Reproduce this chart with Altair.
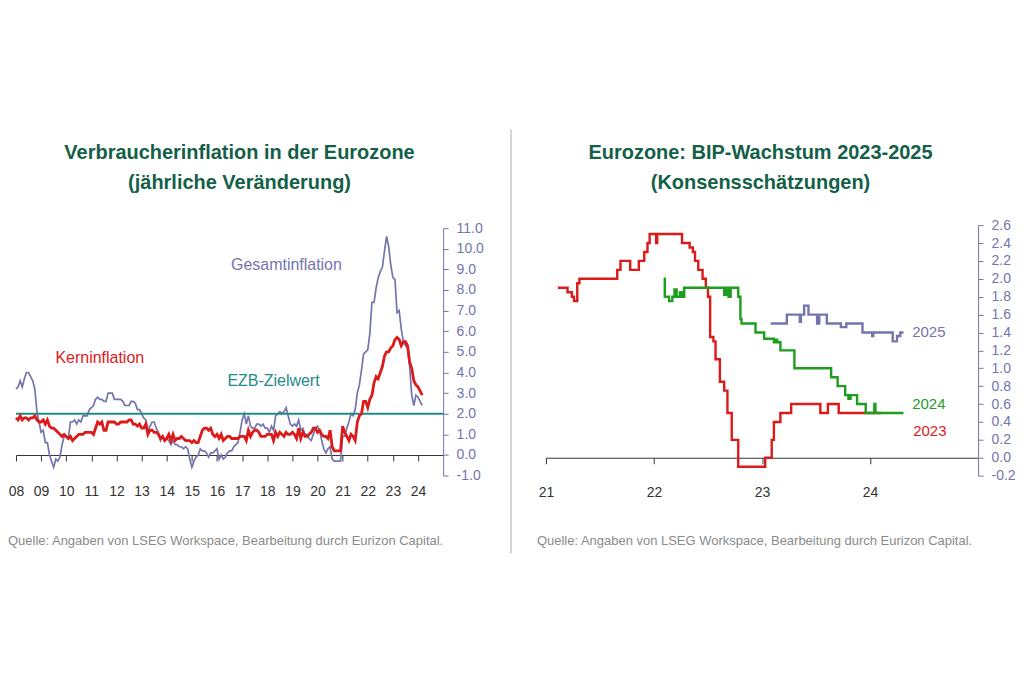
import altair as alt
import pandas as pd

# ---------------- Left panel: euro area inflation (monthly, Jan 2008 - Mar 2024) ----------------
start_year = 2008
headline = [
    3.2, 3.3, 3.6, 3.3, 3.7, 4.0, 4.0, 3.8, 3.6, 3.2, 2.1, 1.6,      # 2008
    1.1, 1.2, 0.6, 0.6, 0.0, -0.3, -0.6, -0.2, -0.3, -0.1, 0.5, 0.9,  # 2009
    0.9, 0.8, 1.6, 1.6, 1.7, 1.5, 1.7, 1.6, 1.9, 1.9, 1.9, 2.2,      # 2010
    2.3, 2.4, 2.7, 2.8, 2.7, 2.7, 2.6, 2.6, 3.0, 3.0, 3.0, 2.7,      # 2011
    2.7, 2.7, 2.7, 2.6, 2.4, 2.4, 2.4, 2.6, 2.6, 2.5, 2.2, 2.2,      # 2012
    2.0, 1.8, 1.7, 1.2, 1.4, 1.6, 1.6, 1.3, 1.1, 0.7, 0.9, 0.8,      # 2013
    0.8, 0.7, 0.5, 0.7, 0.5, 0.5, 0.4, 0.4, 0.3, 0.4, 0.3, -0.2,     # 2014
    -0.6, -0.3, -0.1, 0.0, 0.3, 0.2, 0.2, 0.1, -0.1, 0.1, 0.1, 0.2,  # 2015
    0.3, -0.2, 0.0, -0.2, -0.1, 0.1, 0.2, 0.2, 0.4, 0.5, 0.6, 1.1,   # 2016
    1.7, 2.0, 1.5, 1.9, 1.4, 1.3, 1.3, 1.5, 1.5, 1.4, 1.5, 1.3,      # 2017
    1.3, 1.1, 1.4, 1.2, 1.9, 2.0, 2.1, 2.0, 2.1, 2.3, 1.9, 1.5,      # 2018
    1.4, 1.5, 1.4, 1.7, 1.2, 1.3, 1.0, 1.0, 0.8, 0.7, 1.0, 1.3,      # 2019
    1.4, 1.2, 0.7, 0.3, 0.1, 0.3, 0.4, -0.2, -0.3, -0.3, -0.3, -0.3, # 2020
    0.9, 0.9, 1.3, 1.6, 2.0, 1.9, 2.2, 3.0, 3.4, 4.1, 4.9, 5.0,      # 2021
    5.1, 5.9, 7.4, 7.4, 8.1, 8.6, 8.9, 9.1, 9.9, 10.6, 10.1, 9.2,    # 2022
    8.6, 8.5, 6.9, 7.0, 6.1, 5.5, 5.3, 5.2, 4.3, 2.9, 2.4, 2.9,      # 2023
    2.8, 2.6, 2.4,                                                   # 2024
]
core = [
    1.8, 1.7, 1.9, 1.7, 1.8, 1.8, 1.7, 1.8, 1.8, 1.9, 1.7, 1.6,      # 2008
    1.6, 1.7, 1.5, 1.7, 1.4, 1.3, 1.3, 1.2, 1.1, 1.0, 0.9, 1.0,      # 2009
    0.9, 0.8, 0.9, 0.7, 0.8, 0.9, 1.0, 1.0, 1.0, 1.1, 1.1, 1.1,      # 2010
    1.1, 1.0, 1.3, 1.6, 1.5, 1.6, 1.2, 1.2, 1.6, 1.6, 1.6, 1.6,      # 2011
    1.5, 1.5, 1.6, 1.6, 1.6, 1.6, 1.7, 1.7, 1.5, 1.5, 1.4, 1.5,      # 2012
    1.3, 1.3, 1.5, 1.0, 1.2, 1.2, 1.1, 1.1, 1.0, 0.8, 0.9, 0.7,      # 2013
    0.8, 1.0, 0.7, 1.0, 0.7, 0.8, 0.8, 0.9, 0.8, 0.7, 0.7, 0.7,      # 2014
    0.6, 0.7, 0.6, 0.6, 0.9, 1.2, 1.3, 1.3, 1.2, 1.3, 1.0, 0.9,      # 2015
    1.0, 0.8, 1.0, 0.7, 0.8, 0.9, 0.9, 0.8, 0.8, 0.8, 0.8, 0.9,      # 2016
    0.9, 0.9, 0.7, 1.2, 0.9, 1.1, 1.2, 1.2, 1.1, 0.9, 0.9, 0.9,      # 2017
    1.0, 1.0, 1.0, 0.7, 1.1, 0.9, 1.1, 1.0, 0.9, 1.1, 1.0, 1.0,      # 2018
    1.1, 1.0, 0.8, 1.3, 0.8, 1.1, 0.9, 0.9, 1.0, 1.1, 1.3, 1.3,      # 2019
    1.1, 1.2, 1.0, 0.9, 0.9, 0.8, 1.2, 0.4, 0.2, 0.2, 0.2, 0.2,      # 2020
    1.4, 1.1, 0.9, 0.7, 1.0, 0.9, 0.7, 1.6, 1.9, 2.0, 2.6, 2.6,      # 2021
    2.3, 2.7, 2.9, 3.5, 3.8, 3.7, 4.0, 4.3, 4.8, 5.0, 5.0, 5.2,      # 2022
    5.3, 5.6, 5.7, 5.6, 5.3, 5.5, 5.5, 5.3, 4.5, 4.2, 3.6, 3.4,      # 2023
    3.3, 3.1, 2.9,                                                   # 2024
]
ecb_target = 2.0
left_years = list(range(2008, 2025))
left_ticks = [-1, 0, 1, 2, 3, 4, 5, 6, 7, 8, 9, 10, 11]

# ---------------- Right panel: GDP consensus forecasts (step series) ----------------
gdp2023_x = [2021.11, 2021.20, 2021.24, 2021.26, 2021.29, 2021.31, 2021.66, 2021.69, 2021.78,
             2021.86, 2021.91, 2021.94, 2021.96, 2022.02, 2022.03, 2022.26, 2022.33, 2022.36,
             2022.38, 2022.41, 2022.45, 2022.48, 2022.50, 2022.52, 2022.55, 2022.57, 2022.61,
             2022.65, 2022.68, 2022.72, 2022.78, 2023.03, 2023.09, 2023.11, 2023.17, 2023.27,
             2023.54, 2023.61, 2023.71, 2024.10]
gdp2023_v = [1.90, 1.85, 1.80, 1.75, 1.95, 2.00, 2.10, 2.20, 2.10,
             2.20, 2.30, 2.40, 2.50, 2.40, 2.50, 2.40, 2.35, 2.30,
             2.20, 2.10, 2.00, 1.90, 1.80, 1.35, 1.30, 1.10, 0.85,
             0.75, 0.50, 0.20, -0.10, 0.00, 0.20, 0.40, 0.50, 0.60,
             0.50, 0.60, 0.50, 0.50]
gdp2024_x = [2022.09, 2022.10, 2022.14, 2022.17, 2022.19, 2022.21, 2022.24, 2022.26, 2022.28,
             2022.65, 2022.67, 2022.69, 2022.71, 2022.78, 2022.80, 2022.81, 2022.94, 2023.02,
             2023.11, 2023.13, 2023.14, 2023.17, 2023.30, 2023.64, 2023.70, 2023.77, 2023.80,
             2023.82, 2023.88, 2023.96, 2024.04, 2024.05, 2024.31]
gdp2024_v = [2.00, 1.80, 1.75, 1.80, 1.88, 1.80, 1.85, 1.80, 1.90,
             1.82, 1.90, 1.80, 1.90, 1.80, 1.55, 1.50, 1.40, 1.33,
             1.29, 1.32, 1.29, 1.20, 1.00, 0.90, 0.80, 0.70, 0.66,
             0.70, 0.60, 0.50, 0.60, 0.50, 0.50]
gdp2025_x = [2023.08, 2023.23, 2023.35, 2023.36, 2023.39, 2023.43, 2023.51, 2023.53, 2023.60,
             2023.73, 2023.78, 2023.93, 2024.02, 2024.03, 2024.21, 2024.25, 2024.28, 2024.31]
gdp2025_v = [1.50, 1.60, 1.52, 1.60, 1.70, 1.60, 1.50, 1.60, 1.50,
             1.46, 1.50, 1.40, 1.36, 1.40, 1.30, 1.36, 1.40, 1.40]
right_years = [2021, 2022, 2023, 2024]
right_ticks = [-0.2, 0.0, 0.2, 0.4, 0.6, 0.8, 1.0, 1.2, 1.4, 1.6, 1.8, 2.0, 2.2, 2.4, 2.6]

# ---------------- styling ----------------
PURPLE = "#7474ae"
RED = "#dc1a1a"
TEAL = "#1f8c88"
GREEN = "#1e9e1e"
TITLE = "#145f48"
GREY = "#8a8a8a"
AX = "#333333"
SANS = "Liberation Sans, Arial, sans-serif"
YLABEL = "replace(format(datum.value, '.1f'), '\u2212', '-')"

left_df = pd.DataFrame({
    "t": [start_year + i / 12 for i in range(len(headline))],
    "headline": headline,
    "core": core,
})


def label(text, x, y, color, size, weight="normal", align="center"):
    return alt.Chart(pd.DataFrame({"t": [text]})).mark_text(
        align=align, baseline="middle", color=color, fontSize=size, font=SANS, fontWeight=weight
    ).encode(x=alt.value(x), y=alt.value(y), text="t:N")


LW, RW, H = 428, 433, 251

xl_scale = alt.Scale(domain=[2008, 2025], nice=False, zero=False)
xl_axis = alt.Axis(values=left_years, labelExpr="substring(toString(datum.value), 2)",
                   orient="bottom", offset=-20.67, domainColor=AX, tickColor=AX,
                   tickSize=6, labelPadding=24, labelColor=AX, labelFontSize=14,
                   labelFont=SANS, labelFlush=False, labelOverlap=False, grid=False,
                   title=None)
yl_scale = alt.Scale(domain=[-1, 11], range=[H, 3], nice=False, zero=False)
yl_axis = alt.Axis(orient="right", values=left_ticks, labelExpr=YLABEL, domainColor=PURPLE,
                   tickColor=PURPLE, labelColor=PURPLE, tickSize=5, labelPadding=8,
                   labelFontSize=14, labelFont=SANS, labelOverlap=False, grid=False, title=None)

base_l = alt.Chart(left_df)
headline_line = base_l.mark_line(color=PURPLE, strokeWidth=1.7).encode(
    x=alt.X("t:Q", scale=xl_scale, axis=xl_axis),
    y=alt.Y("headline:Q", scale=yl_scale, axis=yl_axis))
core_line = base_l.mark_line(color=RED, strokeWidth=2.8).encode(
    x=alt.X("t:Q", scale=xl_scale, axis=xl_axis),
    y=alt.Y("core:Q", scale=yl_scale, axis=yl_axis))
ecb_rule = alt.Chart(pd.DataFrame({"v": [ecb_target]})).mark_rule(
    color=TEAL, strokeWidth=2.2).encode(y=alt.Y("v:Q", scale=yl_scale, axis=yl_axis))
separator = alt.Chart(pd.DataFrame({"a": [0]})).mark_rule(color="#aaaaaa", strokeWidth=1).encode(
    x=alt.value(496), y=alt.value(-96), y2=alt.value(329))

left = alt.layer(
    headline_line, ecb_rule, core_line,
    label("Verbraucherinflation in der Eurozone", 224, -72, TITLE, 20, "bold"),
    label("(jährliche Veränderung)", 224, -42, TITLE, 20, "bold"),
    label("Gesamtinflation", 271, 40, PURPLE, 16),
    label("Kerninflation", 84, 133, RED, 16),
    label("EZB-Zielwert", 258, 156, TEAL, 16),
    label("Quelle: Angaben von LSEG Workspace, Bearbeitung durch Eurizon Capital.", -8, 317,
          GREY, 13, align="left"),
    separator,
).properties(width=LW, height=H)

right_df = pd.concat([
    pd.DataFrame({"t": gdp2023_x, "v": gdp2023_v, "s": "2023"}),
    pd.DataFrame({"t": gdp2024_x, "v": gdp2024_v, "s": "2024"}),
    pd.DataFrame({"t": gdp2025_x, "v": gdp2025_v, "s": "2025"}),
], ignore_index=True)

xr = alt.X("t:Q",
           scale=alt.Scale(domain=[2021, 2025], nice=False, zero=False),
           axis=alt.Axis(values=right_years, labelExpr="substring(toString(datum.value), 2)",
                         orient="bottom", offset=-17.93, domainColor=AX, tickColor=AX,
                         tickSize=6, labelPadding=22, labelColor=AX, labelFontSize=14,
                         labelFont=SANS, labelFlush=False, labelOverlap=False, grid=False,
                         title=None))
yr = alt.Y("v:Q",
           scale=alt.Scale(domain=[-0.2, 2.6], nice=False, zero=False),
           axis=alt.Axis(orient="right", values=right_ticks, labelExpr=YLABEL,
                         domainColor=PURPLE, tickColor=PURPLE, labelColor=PURPLE, tickSize=5,
                         labelPadding=8, labelFontSize=14, labelFont=SANS, labelOverlap=False,
                         grid=False, title=None))

gdp_lines = alt.Chart(right_df).mark_line(interpolate="step-after", strokeWidth=2.4).encode(
    x=xr, y=yr,
    color=alt.Color("s:N", scale=alt.Scale(domain=["2023", "2024", "2025"],
                                           range=[RED, GREEN, PURPLE]), legend=None),
    order=alt.Order("t:Q"),
)

right = alt.layer(
    gdp_lines,
    label("Eurozone: BIP-Wachstum 2023-2025", 215, -72, TITLE, 20, "bold"),
    label("(Konsensschätzungen)", 215, -42, TITLE, 20, "bold"),
    label("2025", 367, 107, PURPLE, 15, align="left"),
    label("2024", 367, 179, GREEN, 15, align="left"),
    label("2023", 368, 206, RED, 15, align="left"),
    label("Quelle: Angaben von LSEG Workspace, Bearbeitung durch Eurizon Capital.", -9, 317,
          GREY, 13, align="left"),
).properties(width=RW, height=H)

chart = alt.hconcat(left, right, spacing=103, bounds="flush").properties(
    padding={"left": 0, "top": 120, "right": 0, "bottom": 10},
    background="white",
).configure_view(stroke=None)

chart.save("out.html", embed_options={"renderer": "svg", "actions": False})
